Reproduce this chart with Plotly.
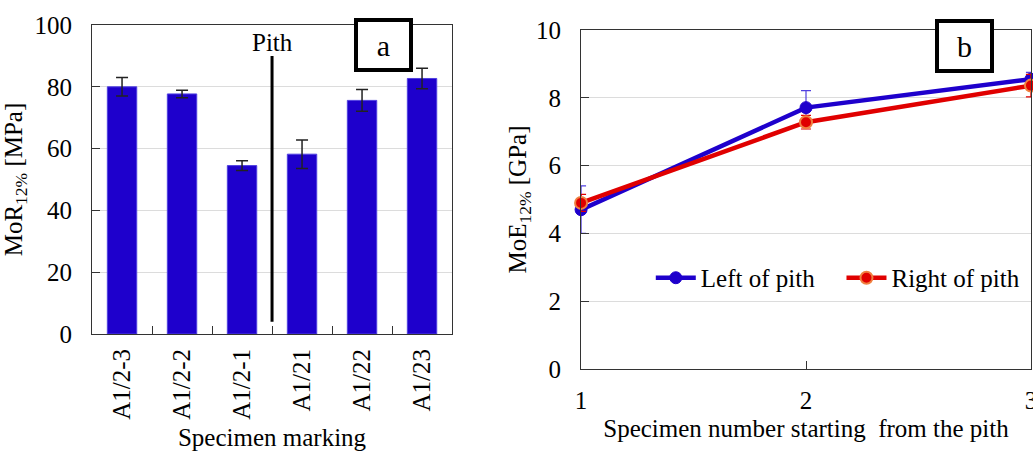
import plotly.graph_objects as go

# ---- data: panel a ----
specimens = ["A1/2-3", "A1/2-2", "A1/2-1", "A1/21", "A1/22", "A1/23"]
mor_values = [80.0, 77.7, 54.5, 58.2, 75.6, 82.7]
mor_errors = [3.0, 1.2, 1.6, 4.6, 3.5, 3.3]
pith_index = 2.5            # between A1/2-1 and A1/21
pith_span = [4, 90]

# ---- data: panel b ----
positions = [1, 2, 3]
left_moe = [4.7, 7.71, 8.55]
left_err = [0.7, 0.5, 0.2]
right_moe = [4.9, 7.28, 8.36]
right_err = [0.25, 0.2, 0.33]

FONT = "Liberation Serif, Times New Roman, serif"
FS = 25
BLUE = "#1E00CC"
RED = "#E00000"

fig = go.Figure()

fig.add_trace(go.Bar(
    x=specimens, y=mor_values, marker=dict(color=BLUE, line=dict(color="#5040E0", width=1)),
    width=0.49,
    error_y=dict(type="data", array=mor_errors, color="#222222", thickness=1.5, width=6),
    xaxis="x", yaxis="y", showlegend=False))

fig.add_trace(go.Scatter(
    x=positions, y=left_moe, mode="lines+markers", name="Left of pith",
    line=dict(color=BLUE, width=4.5),
    marker=dict(color=BLUE, size=12, line=dict(color=BLUE, width=1)),
    error_y=dict(type="data", array=left_err, color="#5040E0", thickness=1.2, width=5),
    cliponaxis=False, xaxis="x2", yaxis="y2", legend="legend"))

fig.add_trace(go.Scatter(
    x=positions, y=right_moe, mode="lines+markers", name="Right of pith",
    line=dict(color=RED, width=4.5),
    marker=dict(color=RED, size=12, line=dict(color="#F08040", width=2)),
    error_y=dict(type="data", array=right_err, color=RED, thickness=1.2, width=5),
    cliponaxis=False, xaxis="x2", yaxis="y2", legend="legend2"))

axis_common = dict(showline=True, linecolor="#333333", linewidth=1, mirror=True,
                   ticks="inside", tickcolor="#333333", ticklen=8,
                   tickfont=dict(family=FONT, size=FS, color="black"),
                   automargin=False, zeroline=False, ticklabeloverflow="allow")

legend_common = dict(orientation="h", xanchor="left", yanchor="middle", y=0.3877,
                     bgcolor="rgba(0,0,0,0)", font=dict(family=FONT, size=FS),
                     itemwidth=40)

fig.update_layout(
    width=1033, height=454, autosize=False,
    margin=dict(l=0, r=0, t=0, b=0),
    paper_bgcolor="white", plot_bgcolor="white",
    font=dict(family=FONT, size=FS, color="black"),
    xaxis=dict(domain=[0.0891, 0.4376], anchor="y", type="category",
               range=[-0.5, 5.5], tickson="boundaries", tickangle=-90,
               showgrid=False, ticklabelstandoff=4,
               title=dict(text="Specimen marking", standoff=9,
                          font=dict(family=FONT, size=FS)),
               **axis_common),
    yaxis=dict(domain=[0.2643, 0.9449], anchor="x", range=[0, 100],
               dtick=20, showgrid=True, gridcolor="#dcdcdc", gridwidth=1,
               ticklabelstandoff=14,
               title=dict(text="MoR<sub>12%</sub> [MPa]", standoff=5,
                          font=dict(family=FONT, size=FS)),
               **axis_common),
    xaxis2=dict(domain=[0.5625, 0.998], anchor="y2", range=[1, 3],
                tickvals=positions, showgrid=False, ticklabelstandoff=9,
                title=dict(text="Specimen number starting\u00a0 from the pith", standoff=6,
                           font=dict(family=FONT, size=FS)),
                **axis_common),
    yaxis2=dict(domain=[0.1872, 0.9339], anchor="x2", range=[0, 10],
                dtick=2, showgrid=True, gridcolor="#dcdcdc", gridwidth=1,
                ticklabelstandoff=14,
                title=dict(text="MoE<sub>12%</sub> [GPa]", standoff=2,
                           font=dict(family=FONT, size=FS)),
                **axis_common),
    legend=dict(x=0.630, **legend_common),
    legend2=dict(x=0.8146, **legend_common),
    showlegend=True,
)

fig.add_shape(type="line", xref="x", yref="y", x0=pith_index, x1=pith_index,
              y0=pith_span[0], y1=pith_span[1], line=dict(color="black", width=3))
fig.add_annotation(xref="x", yref="y", x=pith_index, y=94.5, text="Pith", showarrow=False,
                   font=dict(family=FONT, size=FS))

for label, xc, yc in (("a", 0.3708, 0.9009), ("b", 0.9334, 0.8987)):
    fig.add_annotation(xref="paper", yref="paper", x=xc, y=yc, text=label,
                       xanchor="center", yanchor="middle",
                       showarrow=False, bgcolor="white", bordercolor="black",
                       borderwidth=4, borderpad=0, width=51, height=46,
                       font=dict(family=FONT, size=30))

fix_page = ("document.body.style.margin='0';document.body.style.overflow='hidden';"
            "var gd=document.getElementById('{plot_id}');"
            "Plotly.relayout(gd,{width:1033,height:454});")

fig.write_html("out.html", config={"responsive": False, "displayModeBar": False},
               post_script=fix_page)
